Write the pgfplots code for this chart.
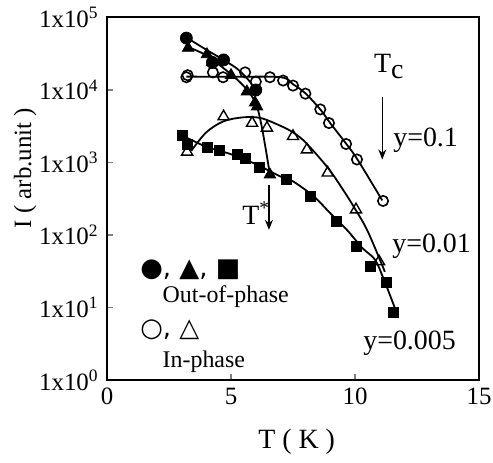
\documentclass[border=0pt]{standalone}
\usepackage{fontspec}
\setmainfont{Liberation Serif}
\newfontfamily\symfont{DejaVu Sans}
\usepackage{pgfplots}
\pgfplotsset{compat=1.18}
\usetikzlibrary{arrows.meta}
\tikzset{
  fit/.style={black,line width=0.9bp,smooth,tension=0.55,no marks},
  note/.style={anchor=base west,inner sep=0pt,font=\fontsize{14}{16}\selectfont},
  leg/.style={anchor=base west,inner sep=0pt,font=\fontsize{12}{14}\selectfont},
  arr/.style={-{Stealth[length=5bp,width=4bp]},line width=0.6bp},
}
\begin{document}
\fontsize{12}{14}\selectfont
\begin{tikzpicture}
\useasboundingbox (-53.5bp,-41.5bp) rectangle (193bp,190bp);
\begin{axis}[width=186bp,height=181.25bp,scale only axis,
 xmin=0,xmax=15,ymin=1,ymax=1e5,ymode=log,
 xtick={0,5,10,15},ytick={1,10,100,1000,10000,100000},
 yticklabels={1x10\textsuperscript{0},1x10\textsuperscript{1},1x10\textsuperscript{2},1x10\textsuperscript{3},1x10\textsuperscript{4},1x10\textsuperscript{5}},
 xticklabels={0,5,10,15},
 tick align=inside,xtick pos=left,ytick pos=left,
 xminorticks=false,yminorticks=false,
 axis line style={line width=1bp},major tick style={line width=0.8bp},major tick length=3bp,
 tick label style={font=\fontsize{12.5}{14}\selectfont},
 /pgf/number format/assume math mode=true,
 xlabel={T ( K )},ylabel={I ( arb.unit )},
 xlabel style={font=\fontsize{14}{16}\selectfont,at={(axis description cs:0.51,-0.171)},anchor=center},
 ylabel style={font=\fontsize{12.5}{14}\selectfont,at={(axis description cs:-0.22,0.585)},anchor=center},
 clip=false]
% fitted curves
\addplot[fit] coordinates {(3.2,5.3e4)(4.0,3.6e4)(4.7,2.6e4)(5.3,1.9e4)(5.8,1.25e4)(6.05,8.5e3)};
\addplot[fit] coordinates {(3.27,3.9e4)(4.0,3.0e4)(5.0,1.65e4)(5.6,1.05e4)(6.0,6.5e3)(6.25,3.0e3)(6.57,680)};
\addplot[fit] coordinates {(3.2,1.53e4)(5.0,1.52e4)(7.0,1.5e4)(7.5,1.2e4)(8.0,9e3)(8.6,5.4e3)(9.0,3.5e3)(9.6,1.9e3)(10.1,1.1e3)(11.1,300)};
\addplot[fit] coordinates {(3.4,1.45e3)(4.0,2.6e3)(4.7,3.7e3)(5.5,4.2e3)(6.2,4.1e3)(7.0,3.2e3)(7.5,2.6e3)(8.0,1.9e3)(8.9,850)(9.5,430)(10.0,230)(10.5,115)(11.1,38)(11.2,31)};
\addplot[fit] coordinates {(3.05,2.35e3)(4.0,1.65e3)(5.0,1.3e3)(6.0,950)(7.0,640)(7.4,575)(8.0,420)(8.47,310)(9.0,200)(9.68,117)(10.3,66)(10.8,46)(11.13,26)(11.6,10)};
% data points
\addplot[only marks,mark=*,mark size=3bp,black] coordinates {(3.2,5.2e4)(4.25,2.4e4)(4.7,2.6e4)(6.0,1.0e4)};
\addplot[only marks,mark=triangle*,mark size=3.3bp,black] coordinates {(3.27,3.8e4)(4.03,3.1e4)(4.23,2.4e4)(5.0,1.6e4)(5.64,9.5e3)(5.97,6.7e3)(6.05,5.9e3)(6.57,680)};
\addplot[only marks,mark=o,mark size=2.6bp,black,mark options={line width=0.8bp}] coordinates {(3.2,1.5e4)(3.25,1.6e4)(4.27,1.75e4)(4.68,1.5e4)(5.57,1.75e4)(6.0,1.3e4)(6.57,1.5e4)(7.1,1.35e4)(7.5,1.15e4)(8.0,8.9e3)(8.6,5.4e3)(8.95,3.5e3)(9.64,1.8e3)(10.08,1.1e3)(11.13,295)};
\addplot[only marks,mark=triangle,mark size=3.2bp,black,mark options={line width=0.7bp}] coordinates {(3.23,1.4e3)(4.7,4.3e3)(5.85,3.5e3)(6.45,3.0e3)(7.5,2.3e3)(8.06,1.5e3)(8.9,720)(10.04,224)(10.97,43)};
\addplot[only marks,mark=square*,mark size=2.5bp,black] coordinates {(3.03,2.35e3)(3.23,1.8e3)(4.03,1.6e3)(4.52,1.45e3)(5.24,1.3e3)(5.6,1.13e3)(6.13,850)(7.25,580)(8.22,340)(9.23,152)(10.04,69)(10.64,37)(11.28,22)(11.53,8.5)};
% annotations
\node[note] at (axis cs:10.75,1.74e4) {T\raisebox{-0.5ex}{c}};
\draw[arr] (axis cs:11.1,7.9e3) -- (axis cs:11.1,1.1e3);
\node[note] at (axis cs:11.53,1.65e3) {y=0.1};
\node[note] at (axis cs:11.49,56.8) {y=0.01};
\node[note] at (axis cs:10.32,2.6) {y=0.005};
\node[note] at (axis cs:5.44,138) {T\textsuperscript{*}};
\draw[arr] (axis cs:6.53,490) -- (axis cs:6.53,118);
\node[leg] at (axis cs:1.33,26.4) {{\symfont\fontsize{13}{14}\selectfont ●, ▲, ■}};
\node[leg] at (axis cs:2.23,11.6) {Out-of-phase};
\node[leg] at (axis cs:1.33,3.93) {{\symfont\fontsize{13}{14}\selectfont ○, △}};
\node[leg] at (axis cs:2.23,1.47) {In-phase};
\end{axis}
\end{tikzpicture}
\end{document}
